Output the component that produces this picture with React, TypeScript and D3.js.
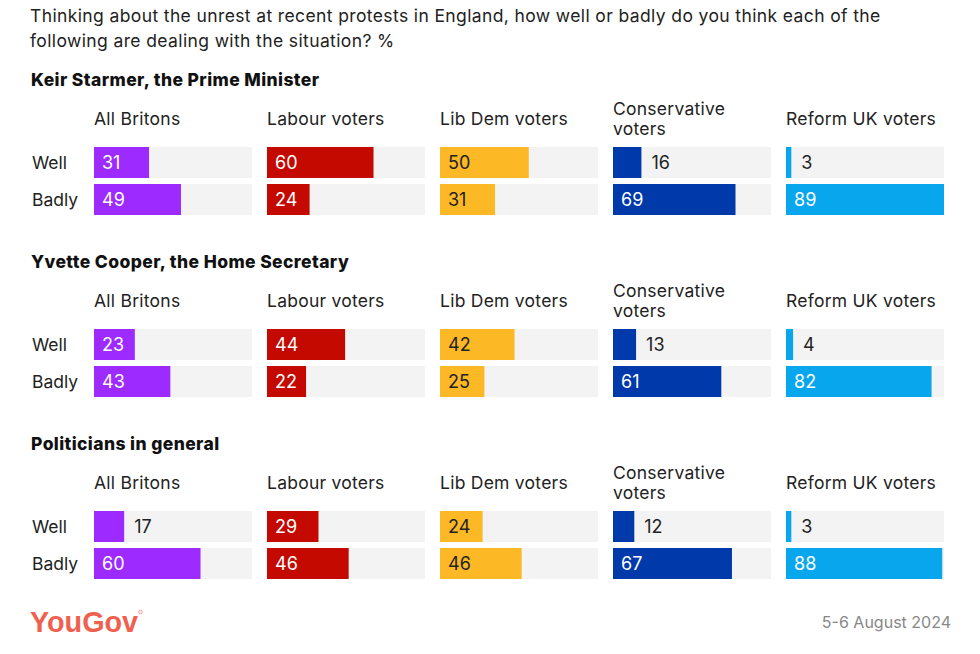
import React from "react";
import * as d3 from "d3";

const title = [
  "Thinking about the unrest at recent protests in England, how well or badly do you think each of the",
  "following are dealing with the situation? %",
];
const sections = ["Keir Starmer, the Prime Minister", "Yvette Cooper, the Home Secretary", "Politicians in general"];
const groups = ["All Britons", "Labour voters", "Lib Dem voters", "Conservative voters", "Reform UK voters"];
const rows = ["Well", "Badly"];
const colors = ["#9d2bff", "#c40a00", "#fdb826", "#0039aa", "#08a6ed"];
const labelColors = ["#ffffff", "#ffffff", "#222222", "#ffffff", "#ffffff"];
// values[section][group] = [well, badly]
const starmer = [[31, 49], [60, 24], [50, 31], [16, 69], [3, 89]];
const cooper = [[23, 43], [44, 22], [42, 25], [13, 61], [4, 82]];
const politicians = [[17, 60], [29, 46], [24, 46], [12, 67], [3, 88]];
const values = [starmer, cooper, politicians];

export default function App() {
  const W = 980, H = 654;
  const font = "Inter, 'Noto Sans', sans-serif";
  const panelW = 158;
  const x = d3.scaleLinear().domain([0, 89]).range([0, panelW]);
  const colX = d3.scalePoint<number>().domain([0, 1, 2, 3, 4]).range([94, 94 + 4 * 173]);
  const secY = d3.scalePoint<number>().domain([0, 1, 2]).range([0, 364]);
  const barH = 31;
  return (
    <svg width={W} height={H} style={{ position: "absolute", left: 0, top: 0, background: "#fff" }} fontFamily={font}>
      <rect width={W} height={H} fill="#fff" />
      {title.map((t, i) => (
        <text key={i} x={30} y={22 + i * 25} fontSize={17.5} fill="#222" letterSpacing={0.38}>{t}</text>
      ))}
      {sections.map((s, si) => {
        const oy = secY(si)!;
        return (
          <g key={si} transform={`translate(0,${oy})`}>
            <text x={31} y={86} fontSize={17.5} fontWeight={800} fill="#111" letterSpacing={0.4}>{s}</text>
            {rows.map((r, ri) => (
              <text key={r} x={32} y={169 + ri * 37} fontSize={17.5} fill="#222">{r}</text>
            ))}
            {groups.map((g, gi) => {
              const cx = colX(gi)!;
              const words = g === "Conservative voters" ? ["Conservative", "voters"] : [g];
              return (
                <g key={g}>
                  {words.map((w, wi) => (
                    <text key={wi} x={cx} y={(words.length > 1 ? 115 : 125) + wi * 20} fontSize={17.5} fill="#222" letterSpacing={0.25}>{w}</text>
                  ))}
                  {values[si][gi].map((v, ri) => {
                    const y = 147 + ri * 37;
                    const bw = x(v);
                    const inside = v >= 20;
                    return (
                      <g key={ri}>
                        <rect x={cx} y={y} width={panelW} height={barH} fill="#f3f3f3" />
                        <rect x={cx} y={y} width={bw} height={barH} fill={colors[gi]} />
                        <text
                          x={inside ? cx + 8 : cx + bw + 10}
                          y={y + barH / 2 + 6.5}
                          fontSize={18}
                          fill={inside ? labelColors[gi] : "#222"}
                        >{v}</text>
                      </g>
                    );
                  })}
                </g>
              );
            })}
          </g>
        );
      })}
      <text x={30} y={632} fontSize={30} fontWeight={700} fill="#f0604f" textLength={108} lengthAdjust="spacingAndGlyphs" fontFamily="'Liberation Sans Narrow', 'Liberation Sans', Arial, sans-serif">YouGov</text>
      <circle cx={140.5} cy={612} r={1.8} fill="none" stroke="#f0604f" strokeWidth={0.6} />
      <text x={951} y={628} fontSize={16} fill="#888" textAnchor="end">5-6 August 2024</text>
    </svg>
  );
}
